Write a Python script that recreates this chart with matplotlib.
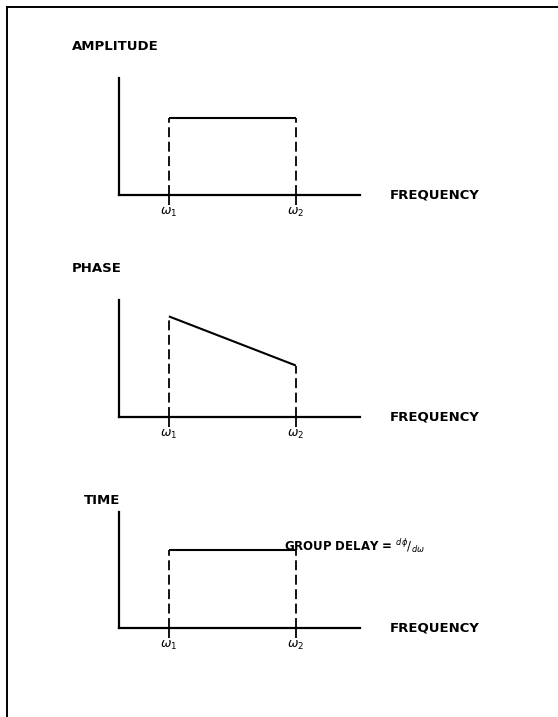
import matplotlib
matplotlib.use('Agg')
import matplotlib.pyplot as plt
from matplotlib.lines import Line2D

# --- data (frequency axis 0..10, response axis 0..1) ---
w1, w2 = 2.07, 7.34
freq_band = [w1, w2]
amplitude = [0.66, 0.66]
phase = [0.86, 0.44]
group_delay = [0.67, 0.67]
tick_labels = [r'$\omega_1$', r'$\omega_2$']
panel_titles = ['AMPLITUDE', 'PHASE', 'TIME']

W, H = 558, 717
fig = plt.figure(figsize=(W / 100, H / 100), dpi=100)
plt.rcParams['font.family'] = ['DejaVu Sans']

# frame (top and left edges only)
fig.add_artist(Line2D([7 / W, 1.0], [1 - 7 / H, 1 - 7 / H], color='black', lw=1.4))
fig.add_artist(Line2D([7 / W, 7 / W], [0.0, 1 - 7 / H], color='black', lw=1.4))

# panel layout in pixels: (x-axis y position, y-axis top)
panels = [(195, 78, amplitude), (417, 300, phase), (628, 512, group_delay)]
title_pos = [(72, 47), (72, 268), (84, 500)]

for (base, top, vals), title, (tx, ty) in zip(panels, panel_titles, title_pos):
    ax = fig.add_axes([119 / W, 1 - base / H, 241 / W, (base - top) / H])
    ax.set_xlim(0, 10)
    ax.set_ylim(0, 1)
    ax.plot(freq_band, vals, color='black', lw=1.5, solid_capstyle='butt')
    for f, v in zip(freq_band, vals):
        ax.plot([f, f], [0, v], color='black', lw=1.3, linestyle=(0, (5.5, 2.5)))
    for s in ['top', 'right']:
        ax.spines[s].set_visible(False)
    for s in ['left', 'bottom']:
        ax.spines[s].set_linewidth(1.6)
    ax.set_yticks([])
    ax.set_xticks(freq_band)
    ax.set_xticklabels(tick_labels, fontsize=9)
    ax.tick_params(axis='x', direction='out', length=7, width=1.3, pad=1)
    ax.patch.set_alpha(0)

    fig.text(tx / W, 1 - ty / H, title, fontsize=9.5, fontweight='bold',
             ha='left', va='center')
    fig.text(390 / W, 1 - base / H, 'FREQUENCY', fontsize=9.5, fontweight='bold',
             ha='left', va='center')

fig.text(284 / W, 1 - 546 / H, r'GROUP DELAY = $^{d\phi}/_{d\omega}$',
         fontsize=8.5, fontweight='bold', ha='left', va='center')

fig.savefig('out.png', dpi=100)
